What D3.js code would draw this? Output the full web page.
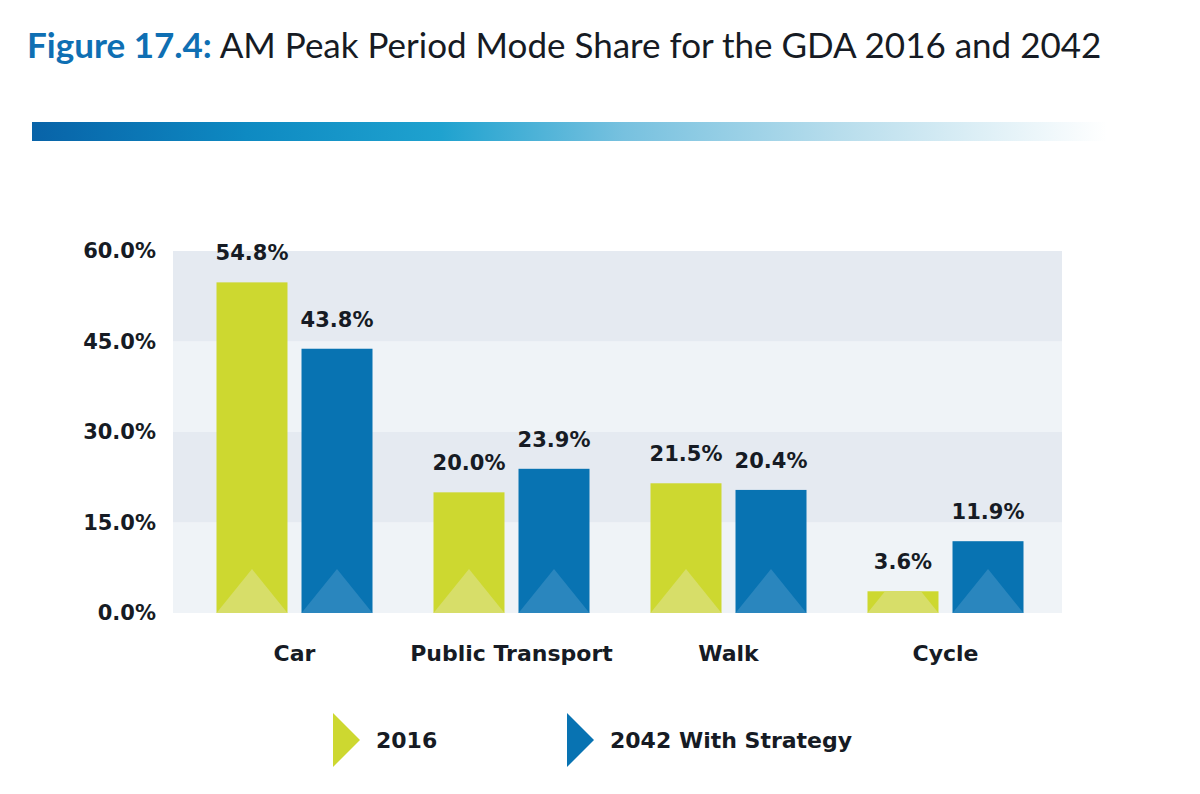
<!DOCTYPE html>
<html>
<head>
<meta charset="utf-8">
<script src="https://cdn.jsdelivr.net/npm/d3@7"></script>
<style>
  body { margin: 0; background: #fff; }
  svg text { font-family: "DejaVu Sans", sans-serif; fill: #161b24; }
  .bold { font-weight: bold; }
  .title { font-family: Lato, sans-serif; }
</style>
</head>
<body>
<svg id="chart" width="1200" height="794"></svg>
<script>
var categories = ['Car', 'Public Transport', 'Walk', 'Cycle'];
var series = ['2016', '2042 With Strategy'];
var values2016 = [54.8, 20.0, 21.5, 3.6];
var values2042 = [43.8, 23.9, 20.4, 11.9];
var yTicks = [0, 15, 30, 45, 60];

var colors = { '2016': '#cdd830', '2042 With Strategy': '#0873b2' };
var triColors = { '2016': '#d7de69', '2042 With Strategy': '#2a86be' };

var svg = d3.select('#chart');
var defs = svg.append('defs');

// title
var title = svg.append('text').attr('x', 27).attr('y', 58).attr('class', 'title').style('font-size', '35px');
title.append('tspan').attr('class', 'bold').style('fill', '#0f6fb3').text('Figure 17.4:');
title.append('tspan').text(' AM Peak Period Mode Share for the GDA 2016 and 2042');

// gradient rule under the title
var grad = defs.append('linearGradient').attr('id', 'rule');
[[0, '#0863a8'], [0.2, '#0e8ac2'], [0.38, '#1fa2cf'], [0.55, '#77c1df'], [0.75, '#b7ddec'], [1, '#ffffff']]
  .forEach(function(s) {
    grad.append('stop').attr('offset', s[0]).attr('stop-color', s[1]);
  });
svg.append('rect').attr('x', 32).attr('y', 122).attr('width', 1075).attr('height', 19).attr('fill', 'url(#rule)');

var plotLeft = 173, plotRight = 1062;
var y = d3.scaleLinear().domain([0, 60]).range([613, 251]);
var x0 = d3.scaleBand().domain(categories).range([186, 1054]);
var groupW = 156;
var x1 = d3.scaleBand().domain(series).range([0, groupW]).paddingInner(0.165);

// background bands
var bands = d3.pairs(yTicks);
svg.append('g').selectAll('rect')
  .data(bands)
  .enter()
  .append('rect')
  .attr('x', plotLeft)
  .attr('width', plotRight - plotLeft)
  .attr('y', function(d) { return y(d[1]); })
  .attr('height', function(d) { return y(d[0]) - y(d[1]); })
  .attr('fill', function(d, i) { return i % 2 === 0 ? '#eff3f7' : '#e5eaf1'; });

// y axis
var yAxis = d3.axisLeft(y).tickValues(yTicks).tickSize(0).tickPadding(0)
  .tickFormat(function(d) { return d3.format('.1f')(d) + '%'; });
var gy = svg.append('g').attr('transform', 'translate(156,0)').call(yAxis);
gy.select('.domain').remove();
gy.selectAll('text').attr('class', 'bold').style('font-size', '21px').style('font-family', null).attr('fill', null);

// x axis
var xAxis = d3.axisBottom(x0).tickSize(0).tickPadding(32);
var gx = svg.append('g').attr('transform', 'translate(0,613)').call(xAxis);
gx.select('.domain').remove();
gx.selectAll('text').attr('class', 'bold').style('font-size', '22px').style('font-family', null).attr('fill', null);

// bars
var rows = [];
categories.forEach(function(c, i) {
  rows.push({ cat: c, key: '2016', value: values2016[i] });
  rows.push({ cat: c, key: '2042 With Strategy', value: values2042[i] });
});

function barX(d) { return x0(d.cat) + (x0.bandwidth() - groupW) / 2 + x1(d.key); }

rows.forEach(function(d, i) {
  defs.append('clipPath').attr('id', 'clip' + i)
    .append('rect')
    .attr('x', barX(d))
    .attr('y', y(d.value))
    .attr('width', x1.bandwidth())
    .attr('height', y(0) - y(d.value));
});

var bars = svg.append('g').selectAll('g')
  .data(rows)
  .enter()
  .append('g');

bars.append('rect')
  .attr('x', barX)
  .attr('y', function(d) { return y(d.value); })
  .attr('width', x1.bandwidth())
  .attr('height', function(d) { return y(0) - y(d.value); })
  .attr('fill', function(d) { return colors[d.key]; });

bars.append('path')
  .attr('clip-path', function(d, i) { return 'url(#clip' + i + ')'; })
  .attr('fill', function(d) { return triColors[d.key]; })
  .attr('d', function(d) {
    var x = barX(d), w = x1.bandwidth(), b = y(0);
    return 'M' + x + ',' + b + 'L' + (x + w / 2) + ',' + (b - 44) + 'L' + (x + w) + ',' + b + 'Z';
  });

bars.append('text')
  .attr('class', 'bold')
  .attr('x', function(d) { return barX(d) + x1.bandwidth() / 2; })
  .attr('y', function(d) { return y(d.value) - 22; })
  .attr('text-anchor', 'middle')
  .style('font-size', '21px')
  .text(function(d) { return d3.format('.1f')(d.value) + '%'; });

// legend
var legendX = [333, 567];
var legend = svg.append('g').selectAll('g')
  .data(series)
  .enter()
  .append('g')
  .attr('transform', function(d, i) { return 'translate(' + legendX[i] + ',740)'; });

legend.append('path')
  .attr('d', 'M0,-27L27,0L0,27Z')
  .attr('fill', function(d) { return colors[d]; });

legend.append('text')
  .attr('class', 'bold')
  .attr('x', 43)
  .attr('dy', '0.35em')
  .style('font-size', '22px')
  .text(function(d) { return d; });
</script>
</body>
</html>
